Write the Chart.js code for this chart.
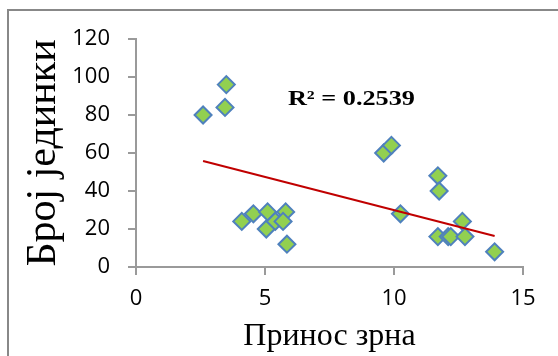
<!DOCTYPE html>
<html>
<head>
<meta charset="utf-8">
<script src="https://cdn.jsdelivr.net/npm/chart.js@4.4.0/dist/chart.umd.min.js"></script>
<style>
    html, body { margin: 0; padding: 0; background: #fff; }
    #wrap { position: relative; width: 558px; height: 356px; }
</style>
</head>
<body>
<div id="wrap"><canvas id="chart" width="558" height="356"></canvas></div>
<script>
// Подаци очитани са слике
const yieldValues = [2.6, 3.5, 3.45, 4.1, 4.55, 5.1, 5.8, 5.05, 5.4, 5.7, 5.85, 9.6, 9.9, 11.7, 11.75, 10.25, 12.65, 11.7, 12.1, 12.2, 12.75, 13.9];
const countValues = [80, 96, 84, 24, 28, 29, 29, 20, 24, 24, 12, 60, 64, 48, 40, 28, 24, 16, 16, 16, 16, 8];
const trendX = [2.6, 13.9];
const trendY = [55.8, 16.3];
const xTickValues = [0, 5, 10, 15];
const yTickValues = [0, 20, 40, 60, 80, 100, 120];
const rSquaredText = 'R² = 0.2539';

const axisColor = '#9a9a9a';

const points = yieldValues.map((x, i) => ({ x: x, y: countValues[i] }));
const trend = trendX.map((x, i) => ({ x: x, y: trendY[i] }));

// Оквир око графика (видљиве само горња и лева ивица)
const framePlugin = {
    id: 'frame',
    beforeDraw(chart) {
        const ctx = chart.ctx;
        ctx.save();
        ctx.strokeStyle = '#888888';
        ctx.lineWidth = 2;
        ctx.beginPath();
        ctx.moveTo(chart.width, 10);
        ctx.lineTo(8, 10);
        ctx.lineTo(8, chart.height);
        ctx.stroke();
        ctx.restore();
    }
};

// Натпис R² у координатама података
const rLabelPlugin = {
    id: 'rLabel',
    afterDatasetsDraw(chart, args, opts) {
        const ctx = chart.ctx;
        const px = chart.scales.x.getPixelForValue(opts.x);
        const py = chart.scales.y.getPixelForValue(opts.y);
        ctx.save();
        ctx.translate(px, py);
        ctx.scale(opts.stretch, 1);
        ctx.font = 'bold 21px "Liberation Serif"';
        ctx.fillStyle = '#000';
        ctx.textAlign = 'center';
        ctx.textBaseline = 'middle';
        ctx.fillText(opts.text, 0, 0);
        ctx.restore();
    }
};

new Chart(document.getElementById('chart'), {
    type: 'scatter',
    data: {
        datasets: [{
            label: 'Број јединки',
            data: points,
            pointStyle: 'rectRot',
            pointRadius: 8.5,
            pointHoverRadius: 8.5,
            backgroundColor: '#92D050',
            borderColor: '#4F81BD',
            borderWidth: 2,
            order: 2
        }, {
            type: 'line',
            label: 'Тренд',
            data: trend,
            borderColor: '#C00000',
            borderWidth: 2,
            pointRadius: 0,
            fill: false,
            order: 1
        }]
    },
    options: {
        responsive: false,
        animation: false,
        devicePixelRatio: 1,
        layout: { padding: { left: 0, top: 39, right: 35, bottom: 0 } },
        plugins: {
            legend: { display: false },
            tooltip: { enabled: false },
            rLabel: { text: rSquaredText, x: 8.35, y: 88, stretch: 1.25 }
        },
        scales: {
            x: {
                type: 'linear',
                min: 0,
                max: 15,
                afterBuildTicks: (scale) => { scale.ticks = xTickValues.map(v => ({ value: v })); },
                afterFit: (scale) => { scale.height = 89; },
                ticks: { color: '#000', font: { family: 'Open Sans', size: 22 }, padding: 11, maxRotation: 0 },
                grid: { drawOnChartArea: false, drawTicks: true, tickLength: 8, color: axisColor, lineWidth: 2 },
                border: { display: true, color: axisColor, width: 2 },
                title: { display: true, text: 'Принос зрна', color: '#000', font: { family: 'Liberation Serif', size: 32 }, padding: { top: 0, bottom: 0 } }
            },
            y: {
                type: 'linear',
                min: 0,
                max: 120,
                afterBuildTicks: (scale) => { scale.ticks = yTickValues.map(v => ({ value: v })); },
                afterFit: (scale) => { scale.width = 136; },
                ticks: { color: '#000', font: { family: 'Open Sans', size: 22 }, padding: 18 },
                grid: { drawOnChartArea: false, drawTicks: true, tickLength: 8, color: axisColor, lineWidth: 2 },
                border: { display: true, color: axisColor, width: 2 },
                title: { display: true, text: 'Број јединки', color: '#000', font: { family: 'Liberation Serif', size: 42 }, padding: { top: 19, bottom: 0 } }
            }
        }
    },
    plugins: [framePlugin, rLabelPlugin]
});
</script>
</body>
</html>
